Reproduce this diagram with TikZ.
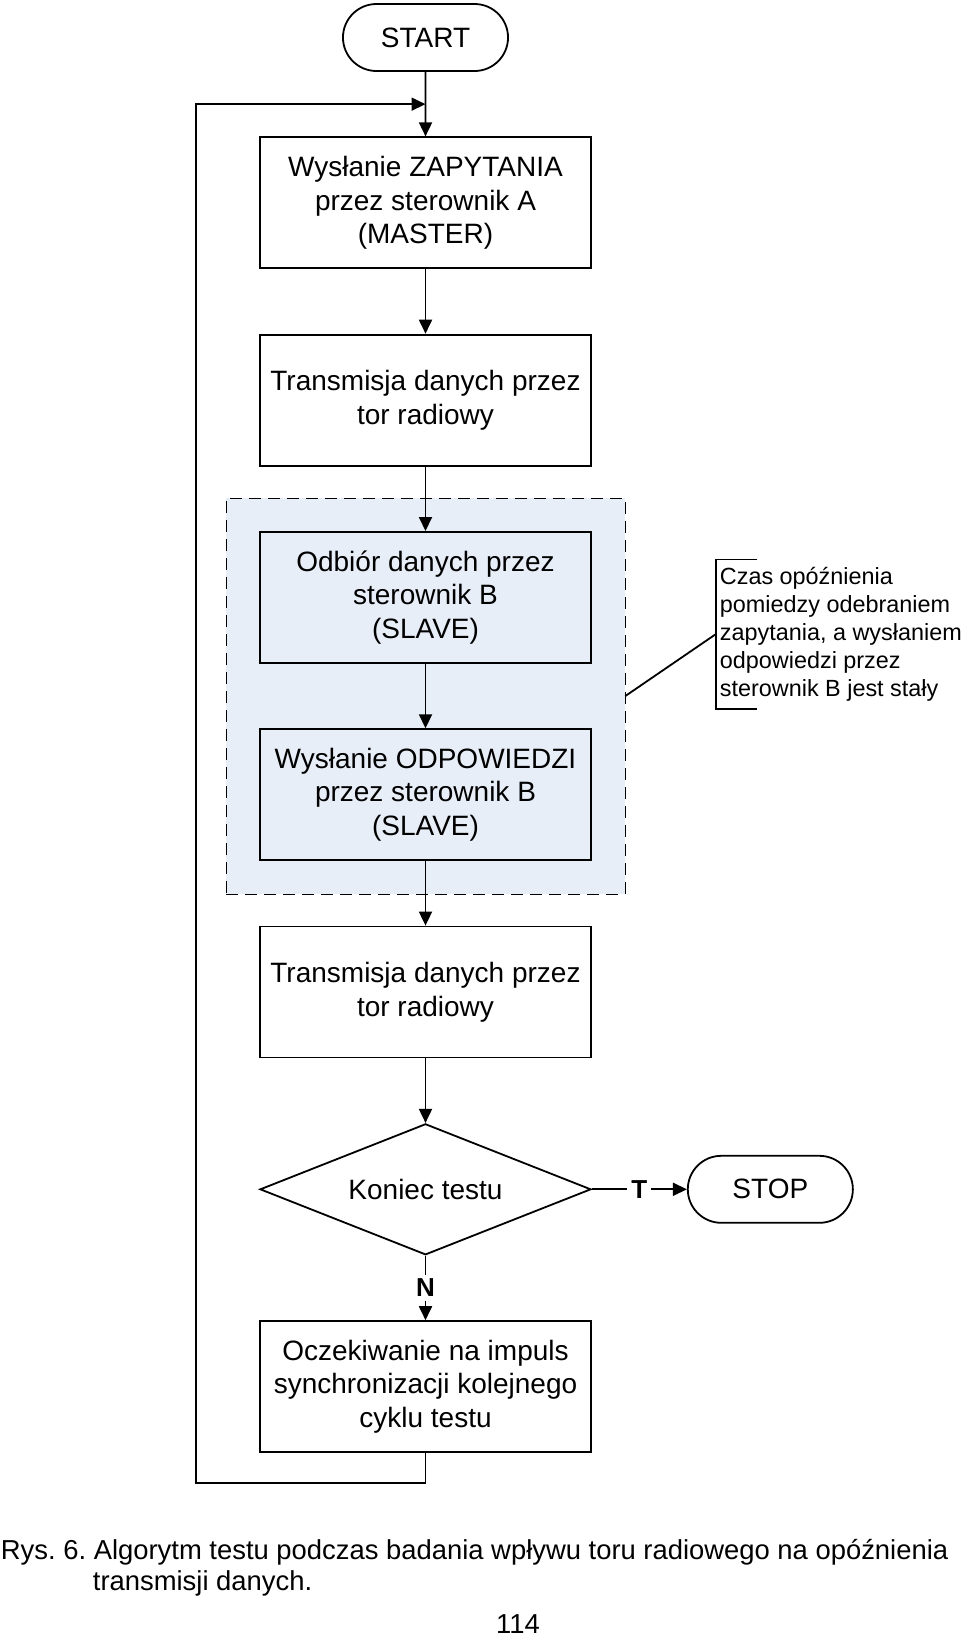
\documentclass[tikz,border=0pt]{standalone}
\usepackage{fontspec}
\setmainfont{Liberation Sans}
\usepackage{tikz}
\usetikzlibrary{arrows.meta,shapes,positioning,fit,backgrounds,calc}
\definecolor{grupafill}{RGB}{232,238,248}
\frenchspacing

\begin{document}
\begin{tikzpicture}[x=0.5pt, y=-0.5pt, line width=0.9pt,
        box/.style={draw, minimum width=165.5pt, minimum height=65.5pt,
          align=center, font=\fontsize{14}{16.75}\selectfont},
        term/.style={draw, rounded rectangle, minimum width=89.2pt, minimum height=33.5pt,
          font=\fontsize{14}{16.75}\selectfont},
        decyzja/.style={draw, diamond, aspect=2.5, inner sep=0pt,
          minimum width=165.5pt, minimum height=65.5pt,
          font=\fontsize{14}{16.75}\selectfont},
        arr/.style={-{Triangle[length=7pt, width=6.5pt]}},
        lab/.style={fill=white, inner sep=2pt, font=\fontsize{13}{15}\selectfont\bfseries},
        podpis/.style={anchor=base west, inner sep=0pt, font=\fontsize{13.7}{15.5}\selectfont}
        ]
        \useasboundingbox (0,0) rectangle (960,1639);

        \node[term] (start) at (425.5,37.5) {START};
        \node[box, below = 32.25pt of start] (zapyt) {Wysłanie ZAPYTANIA\\przez sterownik A\\(MASTER)};
        \node[box, below = 32.25pt of zapyt] (trans1) {Transmisja danych przez\\tor radiowy};
        \node[box, below = 32.25pt of trans1] (odbior) {Odbiór danych przez\\sterownik B\\(SLAVE)};
        \node[box, below = 32.25pt of odbior] (odpow) {Wysłanie ODPOWIEDZI\\przez sterownik B\\(SLAVE)};
        \node[box, below = 32.25pt of odpow] (trans2) {Transmisja danych przez\\tor radiowy};
        \node[decyzja, below = 32.25pt of trans2] (koniec) {Koniec testu};
        \node[term, right = 47.5pt of koniec] (stop) {STOP};
        \node[box, below = 32.25pt of koniec] (oczek) {Oczekiwanie na impuls\\synchronizacji kolejnego\\cyklu testu};

        % obszar SLAVE
        \begin{scope}[on background layer]
          \node[fit=(odbior)(odpow), inner sep=16.5pt, draw, fill=grupafill,
            dash pattern=on 6pt off 3.5pt] (grupa) {};
        \end{scope}

        \node[anchor=west, align=left, inner xsep=1.5pt, minimum height=73pt,
          font=\fontsize{11.7}{14}\selectfont] (uwaga) at (716,634)
          {Czas opóźnienia\\pomiedzy odebraniem\\zapytania, a wysłaniem\\odpowiedzi przez\\sterownik B jest stały};
        \draw ([xshift=20.5pt]uwaga.north west) -- (uwaga.north west)
          -- (uwaga.south west) -- ([xshift=20.5pt]uwaga.south west);
        \draw (grupa.east) -- (uwaga.west);

        \coordinate (petla) at ($(start.south)!0.5!(zapyt.north)$);
        \coordinate (petladol) at (196,1483);

        \draw[arr] (start) -- (zapyt);
        \draw[arr] (zapyt) -- (trans1);
        \draw[arr] (trans1) -- (odbior);
        \draw[arr] (odbior) -- (odpow);
        \draw[arr] (odpow) -- (trans2);
        \draw[arr] (trans2) -- (koniec);
        \draw[arr] (koniec) -- node[lab] {T} (stop);
        \draw[arr] (koniec) -- node[lab] {N} (oczek);
        \draw[arr] (oczek) |- (petladol) |- (petla);

        \node[podpis] (podpis1) at (0,1559) {Rys. 6. Algorytm testu podczas badania wpływu toru radiowego na opóźnienia};
        \node[podpis] (podpis2) at (92,1590) {transmisji danych.};
        \node[podpis, anchor=base] (strona) at (518,1633) {114};
\end{tikzpicture}
\end{document}
